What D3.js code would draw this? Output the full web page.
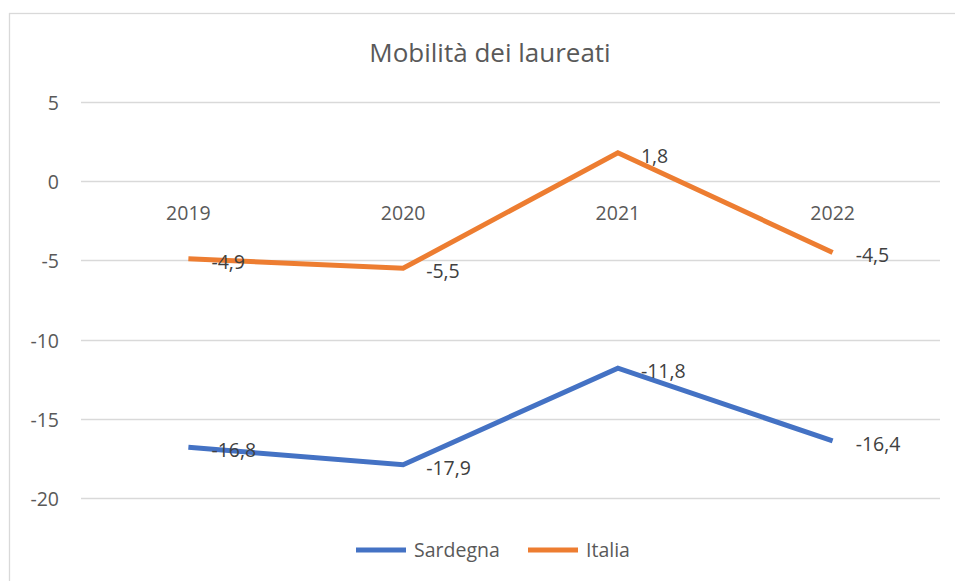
<!DOCTYPE html>
<html><head><meta charset="utf-8">
<script src="https://cdn.jsdelivr.net/npm/d3@7"></script>
<style>
html,body{margin:0;padding:0;background:#fff;}
svg{display:block;font-family:"Open Sans", sans-serif;}
</style></head>
<body>
<svg id="chart" width="955" height="581"></svg>
<script>
const title = "Mobilità dei laureati";
const categories = ["2019", "2020", "2021", "2022"];
const sardegna = [-16.8, -17.9, -11.8, -16.4];
const italia = [-4.9, -5.5, 1.8, -4.5];
const yTicks = [5, 0, -5, -10, -15, -20];
const seriesNames = ["Sardegna", "Italia"];
const seriesColors = ["#4472C4", "#ED7D31"];

const svg = d3.select("#chart");
const W = 955, H = 581;
const FS = 19.5, TFS = 26;
svg.append("rect").attr("x", 9.5).attr("y", 13.5).attr("width", W + 10).attr("height", H + 10)
  .attr("fill", "#fff").attr("stroke", "#d9d9d9").attr("stroke-width", 1.3);

const plotL = 81, plotR = 940;
const x = d3.scaleBand().domain(categories).range([plotL, plotR]);
const y = d3.scaleLinear().domain([-20, 5]).range([498, 102]);
const loc = d3.formatLocale({decimal: ",", thousands: ".", grouping: [3], currency: ["€", ""], minus: "-"});
const fmt = loc.format(".1f");

// gridlines
svg.append("g").selectAll("line").data(yTicks).join("line")
  .attr("x1", plotL).attr("x2", plotR)
  .attr("y1", d => Math.round(y(d)) + 0.5).attr("y2", d => Math.round(y(d)) + 0.5)
  .attr("stroke", "#d9d9d9").attr("stroke-width", 1.4);

// y axis labels
const yAxis = d3.axisLeft(y).tickValues(yTicks).tickSize(0).tickPadding(0).tickFormat(d => String(d));
const ga = svg.append("g").attr("transform", "translate(59,0)").call(yAxis);
ga.select(".domain").remove();
ga.selectAll("text").attr("fill", "#595959").attr("font-size", FS).attr("font-family", "'Open Sans', sans-serif")
  .attr("dy", null).attr("y", 7.5);

// x category labels at y=0 axis
const xAxis = d3.axisBottom(x).tickSize(0).tickPadding(0);
const gx = svg.append("g").attr("transform", `translate(0,${y(0)})`).call(xAxis);
gx.select(".domain").remove();
gx.selectAll("text").attr("fill", "#595959").attr("font-size", FS).attr("font-family", "'Open Sans', sans-serif")
  .attr("dy", null).attr("y", 38.5);

// title
svg.append("text").attr("x", 490).attr("y", 62).attr("text-anchor", "middle")
  .attr("fill", "#595959").attr("font-size", TFS).text(title);

const cx = d => x(d) + x.bandwidth() / 2;
const line = d3.line().x(d => cx(d.c)).y(d => y(d.v));
const seriesData = [sardegna, italia].map((vals, i) => ({
  name: seriesNames[i], color: seriesColors[i],
  pts: vals.map((v, j) => ({c: categories[j], v}))
}));

seriesData.forEach(s => {
  svg.append("path").datum(s.pts).attr("d", line).attr("fill", "none")
    .attr("stroke", s.color).attr("stroke-width", 5).attr("stroke-linejoin", "miter");
});
seriesData.forEach(s => {
  svg.append("g").selectAll("text").data(s.pts).join("text")
    .attr("x", d => cx(d.c) + 23).attr("y", d => y(d.v) + 10)
    .attr("fill", "#404040").attr("font-size", FS).text(d => fmt(d.v));
});

// legend
const legX = [356, 528];
seriesData.forEach((s, i) => {
  const g = svg.append("g");
  g.append("line").attr("x1", legX[i]).attr("x2", legX[i] + 50).attr("y1", 550).attr("y2", 550)
    .attr("stroke", s.color).attr("stroke-width", 5);
  g.append("text").attr("x", legX[i] + 58).attr("y", 556.5)
    .attr("fill", "#595959").attr("font-size", FS).text(s.name);
});
</script>
</body></html>
